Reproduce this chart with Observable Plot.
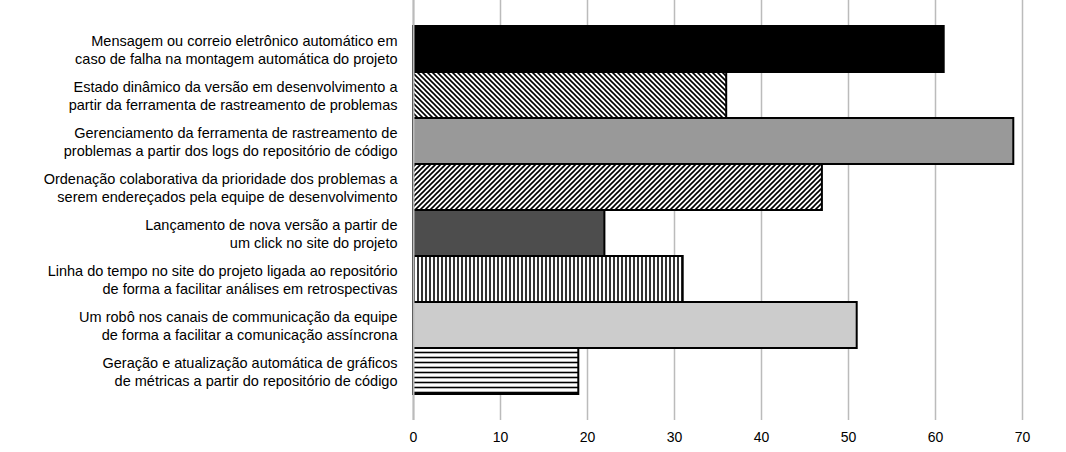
<!DOCTYPE html>
<html><head><meta charset="utf-8">
<script src="https://cdn.jsdelivr.net/npm/d3@7"></script>
<script src="https://cdn.jsdelivr.net/npm/@observablehq/plot@0.6"></script>
<style>body{margin:0;background:#fff;font-family:"Liberation Sans",Arial,sans-serif}</style>
</head><body><div id="chart"></div>
<script>
const labels = [
  "Mensagem ou correio eletrônico automático em\ncaso de falha na montagem automática do projeto",
  "Estado dinâmico da versão em desenvolvimento a\npartir da ferramenta de rastreamento de problemas",
  "Gerenciamento da ferramenta de rastreamento de\nproblemas a partir dos logs do repositório de código",
  "Ordenação colaborativa da prioridade dos problemas a\nserem endereçados pela equipe de desenvolvimento",
  "Lançamento de nova versão a partir de\num click no site do projeto",
  "Linha do tempo no site do projeto ligada ao repositório\nde forma a facilitar análises em retrospectivas",
  "Um robô nos canais de communicação da equipe\nde forma a facilitar a comunicação assíncrona",
  "Geração e atualização automática de gráficos\nde métricas a partir do repositório de código"
];
const values = [61, 36, 69, 47, 22, 31, 51, 19];
const fills = ["#000", "url(#diagBack)", "#999", "url(#diagFwd)", "#4d4d4d", "url(#vert)", "#ccc", "url(#horiz)"];
const ticks = [0, 10, 20, 30, 40, 50, 60, 70];

const data = labels.map((l, i) => ({label: l, value: values[i]}));

const chart = Plot.plot({
  width: 1066, height: 452,
  marginLeft: 413, marginRight: 44, marginTop: 0, marginBottom: 32,
  style: {fontSize: "14px", fontFamily: "Liberation Sans, Arial, sans-serif", color: "#000"},
  x: {domain: [0, 70], label: null},
  y: {domain: labels, label: null, paddingInner: 0, paddingOuter: 0.48},
  marks: [
    Plot.ruleX(ticks, {stroke: "#bbb", strokeWidth: 1.5}),
    Plot.barX(data, {y: "label", x: "value", fill: "#000", stroke: "#000", strokeWidth: 2}),
    Plot.ruleX([0], {stroke: "#bbb", strokeWidth: 2}),
    Plot.axisX({ticks: ticks, tickSize: 0, tickPadding: 12, label: null, fontSize: 14}),
    Plot.axisY({tickSize: 0, tickPadding: 16, label: null, lineHeight: 1.2, fontSize: 14.5})
  ]
});
chart.querySelectorAll("[aria-label='bar'] rect").forEach((r, i) => r.setAttribute("fill", fills[i]));
const svg = d3.select(chart);
const defs = svg.insert("defs", ":first-child");
function pat(id, w, h, path, sw) {
  const p = defs.append("pattern").attr("id", id).attr("patternUnits", "userSpaceOnUse").attr("width", w).attr("height", h);
  p.append("rect").attr("width", w).attr("height", h).attr("fill", "#fff");
  p.append("path").attr("d", path).attr("stroke", "#000").attr("stroke-width", sw);
}
pat("diagBack", 5, 5, "M-1,-1L6,6M-1,4L1,6M4,-1L6,1", 1.6);
pat("diagFwd", 5, 5, "M-1,6L6,-1M-1,1L1,-1M4,6L6,4", 1.6);
pat("vert", 4, 4, "M2,0V4", 1.6);
pat("horiz", 4, 5, "M0,2.5H4", 1.6);
document.getElementById("chart").append(chart);
</script></body></html>
